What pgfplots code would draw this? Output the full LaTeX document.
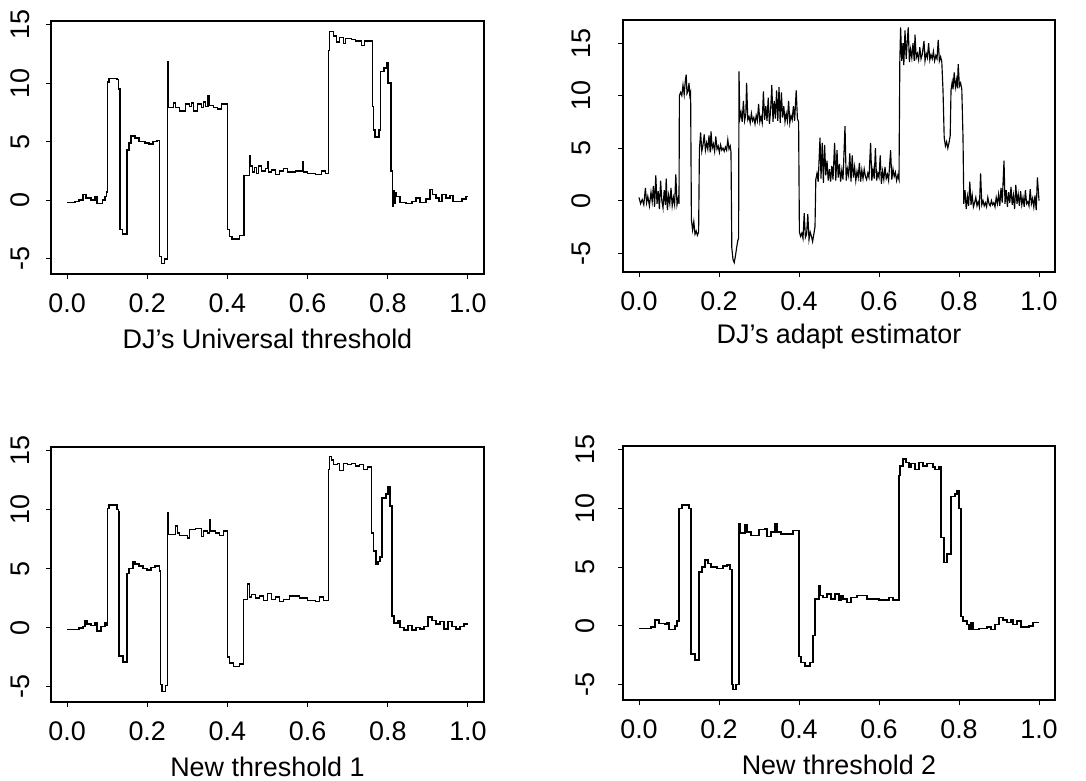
\documentclass[border=0pt]{standalone}
\usepackage{fontspec}
\setmainfont{Liberation Sans}
\usepackage{pgfplots}
\pgfplotsset{compat=1.18}

\def\ylabsep{26bp}
\pgfplotsset{rstyle/.style={
  scale only axis, width=433bp,
  xmin=-0.04, xmax=1.04,
  xtick={0,0.2,0.4,0.6,0.8,1},
  xticklabels={0.0,0.2,0.4,0.6,0.8,1.0},
  ytick={-5,0,5,10,15},
  yticklabels={-5,0,5,10,15},
  tick align=outside, major tick length=5bp,
  tick style={black, line width=1bp},
  axis line style={line width=1.5bp},
  xtick pos=bottom, ytick pos=left,
  every tick label/.append style={font=\fontsize{27}{31}\selectfont},
  xticklabel style={anchor=center, yshift=-24bp},
  yticklabel style={rotate=90, anchor=center, yshift=\ylabsep},
  every axis x label/.style={at={(axis description cs:0.5,0)}, anchor=center, yshift=-65bp, font=\fontsize{27}{31}\selectfont},
  every axis plot/.append style={black, line width=1.5bp},
}}

\begin{document}
\begin{tikzpicture}
\path (0,0) rectangle (1086bp,780bp);

% Panel 1: DJ's Universal threshold
\def\ylabsep{26bp}
\begin{axis}[rstyle, at={(51bp,506bp)}, anchor=south west, height=253bp,
  ymin=-6.3, ymax=15.3, xlabel={DJ's Universal threshold}]
\addplot[const plot] coordinates {
(0.000,-0.2) (0.020,-0.1) (0.030,0.0) (0.040,0.5) (0.047,0.2) (0.060,0.0) (0.070,0.3) (0.075,-0.3)
(0.088,0.0) (0.095,0.3) (0.098,0.7) (0.101,10.1) (0.105,10.4) (0.125,10.3) (0.128,9.5)
(0.132,-2.5) (0.138,-2.9) (0.150,4.3) (0.154,4.9) (0.160,5.5) (0.170,5.3) (0.180,5.0) (0.195,4.9)
(0.205,4.8) (0.215,5.0) (0.225,5.1) (0.231,-4.8) (0.235,-5.4) (0.243,-5.0) (0.251,11.8) (0.253,7.9)
(0.265,8.3) (0.270,7.9) (0.280,7.6) (0.295,8.2) (0.305,8.0) (0.310,8.3) (0.315,7.6) (0.325,8.2)
(0.335,7.9) (0.340,8.4) (0.345,8.0) (0.352,8.9) (0.355,8.1) (0.365,7.9) (0.375,7.8) (0.385,8.2)
(0.400,-2.5) (0.405,-3.1) (0.412,-3.3) (0.430,-3.0) (0.442,2.1) (0.455,3.8) (0.458,2.9) (0.462,2.4)
(0.467,2.8) (0.472,2.3) (0.478,2.9) (0.485,2.5) (0.495,2.7) (0.500,3.3) (0.503,2.4) (0.510,2.6)
(0.520,2.2) (0.530,2.5) (0.540,2.7) (0.550,2.4) (0.570,2.5) (0.587,3.3) (0.590,2.4) (0.600,2.3)
(0.620,2.2) (0.635,2.5) (0.645,2.3) (0.652,12.8) (0.655,14.4) (0.665,14.0) (0.672,13.5) (0.680,13.9)
(0.690,13.4) (0.695,13.8) (0.710,13.7) (0.720,13.6) (0.735,13.2) (0.742,13.6) (0.762,8.0) (0.765,6.0)
(0.768,5.4) (0.778,6.0) (0.782,11.0) (0.790,11.3) (0.797,11.7) (0.800,10.0) (0.808,2.5) (0.812,-0.5)
(0.814,0.8) (0.816,-0.3) (0.818,0.6) (0.822,0.3) (0.830,-0.2) (0.845,-0.3) (0.860,-0.1) (0.870,0.2)
(0.880,-0.2) (0.895,0.1) (0.905,0.9) (0.912,0.5) (0.920,0.2) (0.928,-0.1) (0.935,0.5) (0.945,0.2)
(0.955,0.4) (0.963,-0.1) (0.985,0.1) (0.995,0.3) (1.000,0.3)
};
\end{axis}

% Panel 2: DJ's adapt estimator
\def\ylabsep{37bp}
\begin{axis}[rstyle, at={(623bp,508bp)}, anchor=south west, width=432bp, height=252bp,
  ymin=-6.8, ymax=17.2, xlabel={DJ's adapt estimator}]
\addplot[sharp plot, line width=1.15bp] coordinates {
(0.000,0.3) (0.004,-0.3) (0.008,0.1) (0.012,-0.4) (0.016,1.2) (0.019,-0.2) (0.022,0.4) (0.026,-0.5)
(0.030,0.8) (0.033,-0.1) (0.036,1.4) (0.039,-0.6) (0.042,2.4) (0.045,-0.3) (0.048,0.9) (0.051,-0.8)
(0.054,1.9) (0.057,0.0) (0.060,-0.7) (0.063,1.0) (0.066,-0.4) (0.068,2.1) (0.071,-0.9) (0.074,0.5)
(0.077,-0.3) (0.080,1.2) (0.083,-0.5) (0.086,0.3) (0.089,-0.4) (0.092,2.5) (0.095,-0.4) (0.098,0.2)
(0.100,-0.3) (0.101,10.0) (0.104,10.3) (0.107,10.0) (0.110,11.0) (0.113,10.1) (0.116,11.5) (0.118,12.0)
(0.120,10.2) (0.123,10.5) (0.125,11.2) (0.127,10.0) (0.129,10.3) (0.131,-1.8) (0.134,-2.8) (0.137,-2.0)
(0.140,-3.2) (0.143,-2.9) (0.146,-3.3) (0.149,-3.0) (0.151,4.8) (0.154,6.5) (0.157,4.7) (0.160,5.3)
(0.163,6.3) (0.166,4.8) (0.169,5.5) (0.172,4.9) (0.175,6.2) (0.178,4.6) (0.180,6.6) (0.183,5.0)
(0.186,5.4) (0.189,4.7) (0.192,6.1) (0.195,4.9) (0.198,5.2) (0.201,4.6) (0.204,5.3) (0.207,4.8)
(0.210,5.0) (0.213,4.7) (0.216,5.1) (0.219,4.8) (0.222,5.8) (0.225,4.9) (0.228,5.2) (0.230,4.6)
(0.232,-4.5) (0.235,-5.6) (0.238,-5.9) (0.241,-5.3) (0.244,-4.5) (0.247,-3.8) (0.249,-3.6) (0.250,12.3)
(0.252,7.8) (0.255,8.4) (0.258,7.5) (0.261,9.5) (0.264,7.6) (0.267,8.2) (0.269,11.2) (0.272,7.7)
(0.275,8.0) (0.278,7.4) (0.281,8.3) (0.284,7.6) (0.287,7.9) (0.290,7.3) (0.293,8.1) (0.296,7.6)
(0.299,9.2) (0.302,7.5) (0.305,8.0) (0.308,7.4) (0.311,10.4) (0.314,7.7) (0.317,9.0) (0.320,7.6)
(0.323,9.8) (0.326,7.3) (0.329,8.6) (0.332,11.0) (0.335,7.5) (0.338,9.5) (0.341,7.8) (0.344,10.5)
(0.347,7.6) (0.350,10.8) (0.353,7.4) (0.356,10.3) (0.359,7.9) (0.362,9.0) (0.365,7.5) (0.368,8.3)
(0.371,7.6) (0.374,9.5) (0.377,7.4) (0.380,8.1) (0.383,7.7) (0.386,9.0) (0.389,7.6) (0.393,10.5)
(0.396,7.8) (0.399,7.5) (0.401,-3.0) (0.404,-3.4) (0.407,-3.1) (0.410,-3.6) (0.413,-1.2) (0.416,-3.5)
(0.419,-3.2) (0.422,-1.3) (0.425,-3.7) (0.428,-3.0) (0.431,-3.4) (0.434,-3.9) (0.437,-3.2) (0.440,-2.5)
(0.442,2.0) (0.445,2.6) (0.448,1.8) (0.4525,6.0) (0.455,2.1) (0.458,5.5) (0.461,1.7) (0.464,5.3)
(0.467,2.4) (0.470,3.8) (0.473,1.9) (0.476,3.0) (0.479,1.8) (0.482,3.3) (0.485,2.0) (0.489,5.5)
(0.492,1.9) (0.495,4.8) (0.498,2.2) (0.501,3.5) (0.504,1.8) (0.507,2.9) (0.510,2.0) (0.515,7.1)
(0.518,1.9) (0.521,3.0) (0.524,2.4) (0.527,4.5) (0.530,1.8) (0.533,4.3) (0.536,2.2) (0.539,3.2)
(0.542,1.9) (0.545,2.8) (0.548,2.2) (0.551,3.6) (0.554,1.8) (0.557,2.9) (0.560,2.1) (0.563,3.0)
(0.566,2.3) (0.569,2.0) (0.572,2.6) (0.575,2.2) (0.579,5.5) (0.582,1.9) (0.585,3.0) (0.588,2.1)
(0.591,5.0) (0.594,1.9) (0.597,2.6) (0.600,2.2) (0.603,4.3) (0.606,1.6) (0.609,2.8) (0.612,2.0)
(0.615,3.2) (0.618,2.1) (0.621,2.5) (0.624,1.9) (0.629,4.8) (0.632,2.0) (0.635,3.0) (0.638,2.3)
(0.641,2.7) (0.644,1.9) (0.647,2.4) (0.650,2.0) (0.652,13.2) (0.654,16.5) (0.657,13.3) (0.660,15.0)
(0.662,12.9) (0.665,16.2) (0.668,13.5) (0.670,14.8) (0.673,16.5) (0.676,13.2) (0.679,14.4) (0.682,13.6)
(0.685,15.0) (0.688,13.3) (0.690,15.8) (0.693,13.6) (0.696,14.0) (0.699,13.4) (0.702,14.6) (0.705,13.5)
(0.708,13.9) (0.7125,15.2) (0.715,13.3) (0.718,14.0) (0.721,13.6) (0.724,15.0) (0.727,13.4) (0.730,13.9)
(0.733,13.5) (0.736,14.2) (0.739,13.3) (0.742,13.8) (0.745,13.5) (0.748,15.3) (0.751,13.3) (0.754,13.7)
(0.757,13.2) (0.760,10.5) (0.763,6.0) (0.766,5.2) (0.769,5.6) (0.772,5.0) (0.775,5.5) (0.778,6.2)
(0.780,10.5) (0.783,11.3) (0.785,10.6) (0.788,12.2) (0.791,10.8) (0.794,11.5) (0.796,10.7) (0.798,13.0)
(0.801,10.9) (0.804,11.2) (0.807,10.6) (0.810,6.0) (0.812,-0.3) (0.815,1.0) (0.818,-0.8) (0.821,0.4)
(0.824,-0.5) (0.827,1.8) (0.830,-0.4) (0.833,0.5) (0.836,-0.6) (0.839,-0.2) (0.842,0.3) (0.845,-0.5)
(0.848,-0.1) (0.851,-0.6) (0.854,2.6) (0.857,-0.4) (0.860,0.0) (0.863,-0.5) (0.866,-0.2) (0.869,-0.6)
(0.872,0.3) (0.875,-0.3) (0.878,-0.5) (0.881,0.0) (0.884,-0.4) (0.887,-0.2) (0.890,-0.6) (0.893,0.3)
(0.896,-0.3) (0.899,0.6) (0.902,-0.5) (0.905,1.2) (0.908,-0.2) (0.9125,3.8) (0.915,-0.3) (0.918,1.0)
(0.921,-0.6) (0.924,0.8) (0.927,-0.2) (0.930,1.3) (0.933,-0.4) (0.936,0.5) (0.939,-0.8) (0.942,1.5)
(0.945,-0.3) (0.948,0.6) (0.951,-0.5) (0.954,0.9) (0.957,-0.4) (0.960,0.3) (0.963,-0.6) (0.966,1.0)
(0.969,-0.3) (0.972,-0.1) (0.975,-0.5) (0.978,1.1) (0.981,-0.3) (0.984,0.2) (0.987,-0.6) (0.990,0.5)
(0.993,-0.9) (0.996,2.2) (1.000,0.0)
};
\end{axis}

% Panel 3: New threshold 1
\def\ylabsep{26bp}
\begin{axis}[rstyle, at={(51bp,78bp)}, anchor=south west, height=255bp,
  ymin=-6.3, ymax=15.3, xlabel={New threshold 1}]
\addplot[const plot] coordinates {
(0.000,-0.15) (0.030,-0.05) (0.040,0.1) (0.045,0.6) (0.050,0.3) (0.060,0.2) (0.070,0.4) (0.075,-0.3)
(0.085,0.1) (0.095,0.4) (0.100,0.2) (0.101,10.1) (0.105,10.4) (0.125,10.0) (0.128,9.8)
(0.130,-2.4) (0.140,-2.9) (0.150,4.6) (0.155,5.0) (0.165,5.6) (0.170,5.4) (0.180,5.2) (0.190,5.0)
(0.200,4.9) (0.210,5.1) (0.220,5.2) (0.230,4.8) (0.233,-4.8) (0.237,-5.4) (0.245,-4.9) (0.250,9.7)
(0.252,7.9) (0.270,8.6) (0.275,8.0) (0.280,7.8) (0.300,7.6) (0.305,8.3) (0.320,8.4) (0.335,7.7)
(0.340,8.2) (0.350,8.0) (0.355,9.1) (0.358,8.2) (0.370,8.0) (0.380,7.8) (0.390,8.2) (0.400,-2.5)
(0.405,-3.0) (0.415,-3.3) (0.430,-3.1) (0.440,2.4) (0.450,3.7) (0.455,2.6) (0.460,2.8) (0.470,2.5)
(0.480,2.7) (0.490,2.3) (0.500,2.9) (0.510,2.4) (0.520,2.6) (0.530,2.2) (0.540,2.4) (0.555,2.7)
(0.580,2.5) (0.600,2.3) (0.620,2.2) (0.630,2.6) (0.640,2.3) (0.652,13.4) (0.655,14.5) (0.660,14.2)
(0.665,13.8) (0.675,13.9) (0.680,13.3) (0.690,13.9) (0.700,13.8) (0.710,13.9) (0.720,13.7) (0.730,13.8)
(0.740,13.4) (0.750,13.6) (0.760,8.0) (0.765,6.5) (0.770,5.4) (0.775,5.6) (0.780,6.0) (0.785,11.0)
(0.795,11.3) (0.800,11.9) (0.805,10.3) (0.810,1.0) (0.815,0.4) (0.825,0.6) (0.830,0.0) (0.840,-0.2)
(0.850,0.2) (0.860,-0.2) (0.870,0.0) (0.880,-0.1) (0.890,0.1) (0.900,0.9) (0.910,0.6) (0.920,0.3)
(0.930,0.5) (0.940,-0.1) (0.950,0.5) (0.960,0.1) (0.970,-0.1) (0.980,0.1) (0.990,0.3) (1.000,0.3)
};
\end{axis}

% Panel 4: New threshold 2
\def\ylabsep{33bp}
\begin{axis}[rstyle, at={(623bp,80bp)}, anchor=south west, width=432bp, height=254bp,
  ymin=-6.3, ymax=15.3, xlabel={New threshold 2}]
\addplot[const plot] coordinates {
(0.000,-0.2) (0.030,-0.1) (0.040,0.5) (0.050,0.2) (0.065,0.1) (0.070,0.3) (0.075,-0.3) (0.090,0.0)
(0.095,0.4) (0.100,10.0) (0.108,10.3) (0.125,10.0) (0.130,-2.4) (0.140,-2.9) (0.150,4.6) (0.158,5.0)
(0.165,5.6) (0.172,5.3) (0.180,5.0) (0.195,4.9) (0.210,5.1) (0.220,5.2) (0.228,4.8) (0.232,-5.0)
(0.235,-5.4) (0.243,-5.0) (0.250,8.7) (0.253,7.9) (0.265,8.6) (0.270,8.0) (0.280,7.7) (0.300,8.2)
(0.315,8.3) (0.320,7.6) (0.330,8.0) (0.340,8.7) (0.345,8.0) (0.355,7.8) (0.370,7.8) (0.385,8.1)
(0.400,-2.6) (0.405,-3.1) (0.415,-3.4) (0.428,-3.1) (0.435,-0.8) (0.440,2.3) (0.450,3.4) (0.453,2.6)
(0.460,2.4) (0.470,2.7) (0.480,2.3) (0.490,2.7) (0.500,2.2) (0.505,2.6) (0.510,2.3) (0.520,2.0)
(0.530,2.4) (0.545,2.6) (0.570,2.3) (0.600,2.2) (0.625,2.4) (0.635,2.2) (0.650,12.8) (0.653,13.6)
(0.660,14.2) (0.668,13.9) (0.675,13.5) (0.680,13.8) (0.690,13.3) (0.700,13.9) (0.710,13.6) (0.720,13.8)
(0.735,13.5) (0.740,13.3) (0.750,13.5) (0.755,7.5) (0.763,5.4) (0.770,6.1) (0.780,11.0) (0.790,11.2)
(0.795,11.5) (0.800,10.0) (0.805,0.8) (0.810,0.4) (0.820,0.1) (0.825,-0.3) (0.830,0.3) (0.835,-0.3)
(0.850,-0.2) (0.870,-0.1) (0.880,-0.3) (0.890,0.1) (0.900,0.7) (0.910,0.5) (0.920,0.3) (0.930,0.5)
(0.935,0.1) (0.945,0.4) (0.955,-0.1) (0.975,0.0) (0.985,0.3) (1.000,0.3)
};
\end{axis}
\end{tikzpicture}
\end{document}
